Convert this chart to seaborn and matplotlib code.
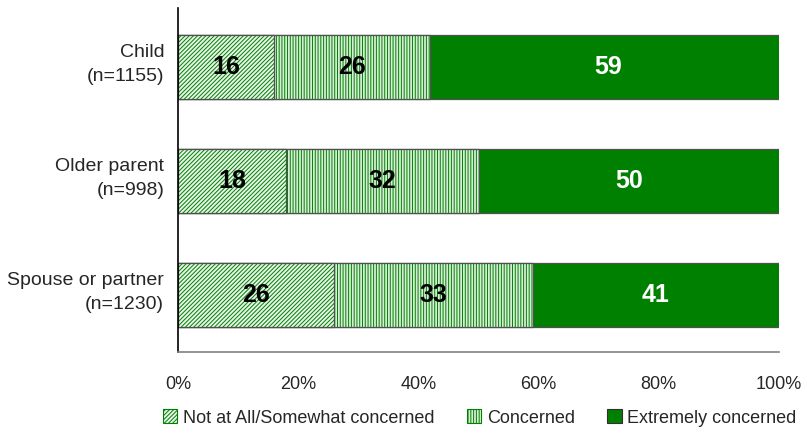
import numpy as np
import pandas as pd
import matplotlib
matplotlib.use("Agg")
import matplotlib.pyplot as plt
import matplotlib.transforms as mtransforms
import seaborn as sns
from matplotlib.patches import Patch

# Dados
grupos = ["Child\n(n=1155)", "Older parent\n(n=998)", "Spouse or partner\n(n=1230)"]
series = ["Not at All/Somewhat concerned", "Concerned", "Extremely concerned"]
nao = [16, 18, 26]
preocupado = [26, 32, 33]
extremo = [59, 50, 41]

verde = "#008000"
cores_fundo = ["#e8f4e8", "#d8edd8", verde]
hachuras = ["////////", "||||||", None]
cores_texto = ["black", "black", "white"]

sns.set_style("white")
plt.rcParams["font.family"] = ["Liberation Sans Narrow", "Liberation Sans", "DejaVu Sans"]
plt.rcParams["hatch.linewidth"] = 0.7

df = pd.DataFrame({"grupo": grupos, "nao": nao, "preo": preocupado, "ext": extremo})
df["c1"] = df["nao"]
df["c2"] = df["nao"] + df["preo"]
df["c3"] = 100  # total = 100%

fig, ax = plt.subplots(figsize=(8.07, 4.34), dpi=100)
fig.subplots_adjust(left=0.2206, right=0.9653, top=0.9816, bottom=0.189)

# barras empilhadas: acumulados do maior para o menor
for col, cor, hat in [("c3", cores_fundo[2], hachuras[2]),
                      ("c2", cores_fundo[1], hachuras[1]),
                      ("c1", cores_fundo[0], hachuras[0])]:
    n0 = len(ax.patches)
    sns.barplot(data=df, x=col, y="grupo", orient="h", color=cor, saturation=1,
                width=0.56, ax=ax, hatch=hat, linewidth=0)
    for p in ax.patches[n0:]:
        p.set_edgecolor(verde)
        p.set_linewidth(0)
    sns.barplot(data=df, x=col, y="grupo", orient="h", fill=False, width=0.56,
                ax=ax, edgecolor="#505050", linewidth=0.9)

# rótulos
for i in range(len(grupos)):
    esq = 0
    for vals, cor in zip([nao, preocupado, extremo], cores_texto):
        v = vals[i]
        ax.text(esq + v / 2, i, str(v), ha="center", va="center", color=cor,
                fontsize=18, fontweight="bold")
        esq += v

ax.set_xlim(0, 100)
ax.set_ylim(2.5, -0.52)
ax.set_xticks([0, 20, 40, 60, 80, 100])
ax.set_xticklabels([f"{t}%" for t in range(0, 101, 20)])
ax.set_xlabel("")
ax.set_ylabel("")
ax.tick_params(axis="x", labelsize=13, length=3, color="#808080", direction="out", pad=14)
ax.tick_params(axis="y", labelsize=14, length=0, pad=10)
desloc = mtransforms.ScaledTranslation(0, 0.08, fig.dpi_scale_trans)
for lab in ax.get_yticklabels():
    lab.set_horizontalalignment("right")
    lab.set_multialignment("right")
    lab.set_linespacing(1.5)
    lab.set_transform(lab.get_transform() + desloc)

sns.despine(ax=ax, top=True, right=True)
ax.spines["left"].set_color("black")
ax.spines["left"].set_linewidth(1.2)
ax.spines["bottom"].set_color("#808080")
ax.spines["bottom"].set_linewidth(1.2)

handles = [Patch(facecolor=cores_fundo[k], edgecolor=verde if hachuras[k] else "#303030",
                 hatch=hachuras[k], linewidth=0.8) for k in range(3)]
ax.legend(handles, series, loc="center", bbox_to_anchor=(0.502, -0.192), ncol=3,
          frameon=False, fontsize=13, handlelength=0.8, handleheight=0.8,
          handletextpad=0.3, columnspacing=1.8)

plt.savefig("out.png", dpi=100)
